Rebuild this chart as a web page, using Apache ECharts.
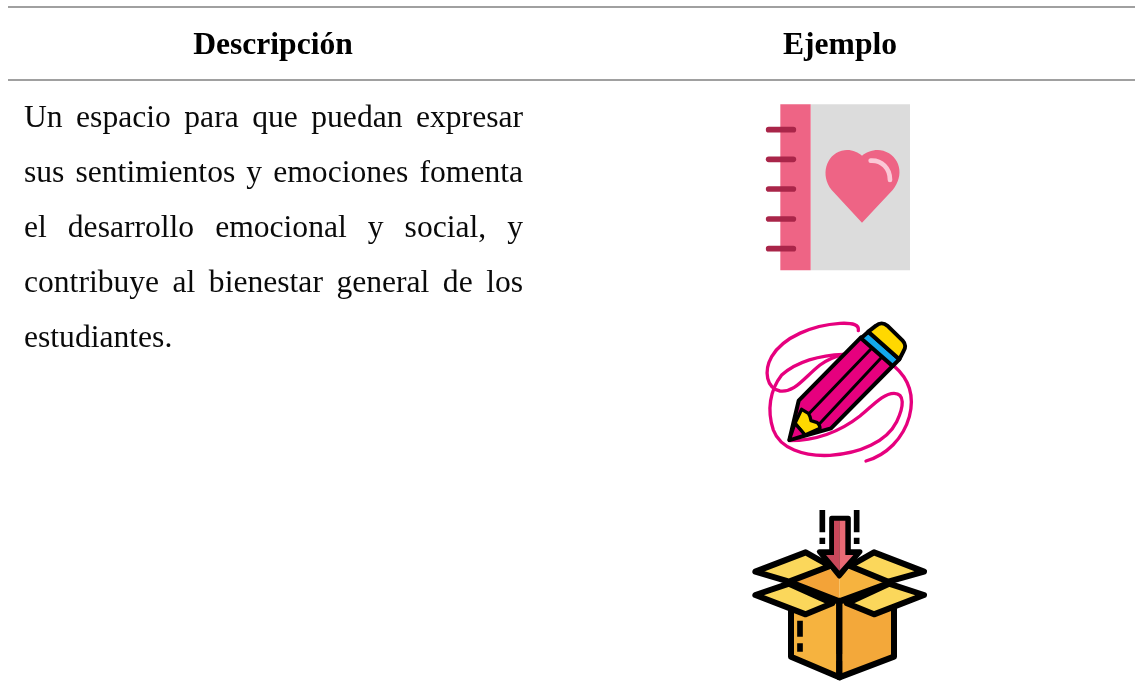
<!DOCTYPE html>
<html><head><meta charset="utf-8">
<style>html,body{margin:0;padding:0;background:#fff}#c{width:1135px;height:700px}</style>
<script src="https://cdn.jsdelivr.net/npm/echarts@6/dist/echarts.min.js"></script>
</head><body><div id="c"></div>
<script>
const headers = ['Descripción', 'Ejemplo'];
const bodyLines = [
  'Un espacio para que puedan expresar',
  'sus sentimientos y emociones fomenta',
  'el desarrollo emocional y social, y',
  'contribuye al bienestar general de los',
  'estudiantes.'
];
const FONT = '"Liberation Serif","Times New Roman",serif';
const BODY_SIZE = 31.6, HEAD_SIZE = 31.6;
const BASE_SHIFT = 7.4;

const chart = echarts.init(document.getElementById('c'), null, {renderer:'canvas'});
const ctx = document.createElement('canvas').getContext('2d');
function P(d, style){
  const name = 'p' + (P.n = (P.n||0)+1);
  echarts.graphic.registerShape(name, echarts.graphic.extendPath(d));
  return {type:name, style:Object.assign({fill:'none', lineJoin:'round', lineCap:'round'}, style), silent:true};
}
const els = [];
// rules
[7,80].forEach(y=>els.push({type:'line',shape:{x1:8,y1:y,x2:1135,y2:y},style:{stroke:'#808080',lineWidth:1.6},silent:true}));
// header
[[headers[0],273],[headers[1],840]].forEach(h=>els.push({type:'text',x:h[1],y:54+BASE_SHIFT,silent:true,
  style:{text:h[0],font:'bold '+HEAD_SIZE+'px '+FONT,fill:'#000',align:'center',verticalAlign:'bottom'}}));
// justified body
const L=24,R=523;
ctx.font = BODY_SIZE+'px '+FONT;
bodyLines.forEach((line,i)=>{
  const words=line.split(' ');
  const y=127.3+i*55.1+BASE_SHIFT;
  const total=words.reduce((a,w)=>a+ctx.measureText(w).width,0);
  const last=i===bodyLines.length-1;
  const gap=last?ctx.measureText(' ').width:(R-L-total)/(words.length-1);
  let x=L;
  words.forEach(w=>{
    els.push({type:'text',x:x,y:y,silent:true,style:{text:w,font:BODY_SIZE+'px '+FONT,fill:'#0a0a0a',align:'left',verticalAlign:'bottom'}});
    x+=ctx.measureText(w).width+gap;
  });
});
// notebook icon
els.push({type:'group',x:740,y:90,scaleX:1/3,scaleY:1/3,silent:true,children:[
  {type:'rect',shape:{x:212,y:43,width:298,height:498},style:{fill:'#dcdcdc'},silent:true},
  {type:'rect',shape:{x:121,y:43,width:91,height:498},style:{fill:'#ee6485'},silent:true},
  ...[119,208,297,387,476].map(y=>({type:'line',shape:{x1:86,y1:y,x2:160,y2:y},style:{stroke:'#a92549',lineWidth:17,lineCap:'round'},silent:true})),
  P('M366,398 L275,300 C240,255 258,195 305,182 C330,176 352,185 366,197 C380,185 405,176 430,182 C480,198 495,255 458,300 Z',{fill:'#ee6485'}),
  P('M392,212 C425,210 450,235 450,270',{stroke:'#fbc8d6',lineWidth:14})
]});
// pencil icon
const PK='#e6007e', PW=10, KW=12;
els.push({type:'group',x:740,y:310,scaleX:1/3,scaleY:1/3,silent:true,children:[
  P('M148,392 C230,392 300,365 360,318 C400,285 430,250 462,250 C495,250 492,290 470,335 C440,395 360,430 270,436 C190,440 120,415 100,360 C80,300 90,240 125,195 C170,155 240,135 310,133',{stroke:PK,lineWidth:PW}),
  P('M355,62 C358,45 340,38 300,40 C220,45 130,80 95,140 C70,185 80,235 120,243 C165,248 190,205 240,165 C260,150 290,138 310,133',{stroke:PK,lineWidth:PW}),
  P('M378,453 C440,435 490,385 508,320 C525,255 505,205 462,168',{stroke:PK,lineWidth:PW}),
  P('M148,390 L176,272 L363,82 L458,168 L273,355 Z',{fill:PK,stroke:'#000',lineWidth:KW}),
  P('M185,298 L205,310 Q212,320 213,332 L232,338 Q240,345 240,355 L195,375 L165,340 Z',{fill:'#ffd800',stroke:'#000',lineWidth:KW-2}),
  P('M148,390 L165,340 L195,375 Z',{fill:PK,stroke:'#000',lineWidth:KW-2}),
  P('M208,310 L395,115 M240,340 L425,142',{stroke:'#000',lineWidth:9}),
  P('M363,85 L385,65 L478,148 L458,168 Z',{fill:'#13a9ec',stroke:'#000',lineWidth:KW}),
  P('M385,65 L408,47 C418,38 432,38 442,47 L488,92 C498,102 497,115 490,125 L478,148 Z',{fill:'#ffd800',stroke:'#000',lineWidth:KW})
]});
// box icon
const BK='#000', BW=18;
els.push({type:'group',x:740,y:500,scaleX:1/3,scaleY:1/3,silent:true,children:[
  P('M153,320 L153,470 L298,532 L298,300 Z',{fill:'#f6b33f',stroke:BK,lineWidth:BW}),
  P('M298,300 L298,532 L462,470 L462,320 Z',{fill:'#f3a83a',stroke:BK,lineWidth:BW}),
  P('M160,250 L262,200 L298,232 L298,300 Z',{fill:'#f3a338'}),
  P('M298,232 L335,200 L435,250 L298,300 Z',{fill:'#f6b33f'}),
  P('M150,246 L298,304 L445,250',{stroke:BK,lineWidth:BW}),
  P('M46,215 L197,157 L270,198 L147,245 Z',{fill:'#fbd75b',stroke:BK,lineWidth:BW}),
  P('M330,198 L402,157 L552,215 L445,245 Z',{fill:'#fbd75b',stroke:BK,lineWidth:BW}),
  P('M46,285 L147,251 L277,310 L197,343 Z',{fill:'#fbd75b',stroke:BK,lineWidth:BW}),
  P('M321,310 L447,251 L552,285 L402,343 Z',{fill:'#fbd75b',stroke:BK,lineWidth:BW}),
  P('M275,55 L325,55 L325,155 L360,155 L298,228 L238,155 L275,155 Z',{fill:'#000',stroke:BK,lineWidth:15}),
  P('M298,62 L298,212 L258,165 L282,165 L282,62 Z',{fill:'#c9485b'}),
  P('M298,62 L298,212 L340,165 L316,165 L316,62 Z',{fill:'#ea6a75'}),
  P('M247,30 L247,97 M247,113 L247,132 M350,30 L350,97 M350,113 L350,132 M180,362 L180,410 M180,430 L180,455 M298,462 L298,312 M298,483 L298,525',{stroke:BK,lineWidth:17,lineCap:'butt'}),
]});
chart.setOption({animation:false,backgroundColor:'#fff',graphic:{elements:els}});
</script></body></html>
